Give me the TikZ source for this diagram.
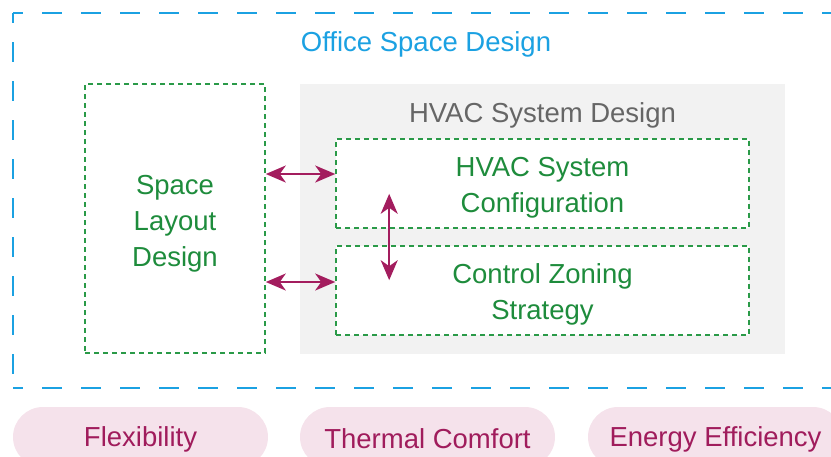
\documentclass[tikz,border=0pt]{standalone}
\usepackage{fontspec}
\setmainfont{Liberation Sans}
\usetikzlibrary{arrows.meta,calc}
\definecolor{outerblue}{HTML}{1BA1E2}
\definecolor{boxgreen}{HTML}{2A9A48}
\definecolor{textgreen}{HTML}{1E8C3C}
\definecolor{graybg}{HTML}{F2F2F2}
\definecolor{graytext}{HTML}{666666}
\definecolor{pillfill}{HTML}{F5E2EB}
\definecolor{pilltext}{HTML}{A01C5C}
\definecolor{arrowc}{HTML}{A31D5E}
\tikzset{
  bigfont/.style={font=\fontsize{27.5}{36}\selectfont},
  outerline/.style={draw=outerblue, line width=2pt, dash pattern=on 20pt off 19pt, dash phase=10pt},
  greenbox/.style={draw=boxgreen, fill=white, line width=1.6pt, dash pattern=on 5pt off 4pt, inner sep=0pt},
  greentext/.style={text=textgreen, bigfont, align=center, inner sep=0pt},
  pill/.style={fill=pillfill, rounded corners=30pt, minimum width=255pt, minimum height=60pt,
     inner sep=0pt},
  pilltxt/.style={text=pilltext, bigfont, inner sep=0pt},
  biarrow/.style={draw=arrowc, line width=2.3pt, {Stealth[length=20pt,width=17pt,inset=6pt]}-{Stealth[length=20pt,width=17pt,inset=6pt]}}
}
\begin{document}
\begin{tikzpicture}[x=1pt,y=-1pt]
\useasboundingbox (0,0) rectangle (831,456);
\clip (0,0) rectangle (831,456);
% outer dashed frame
\draw[outerline] (13,13) -- (860,13);
\draw[outerline] (13,13) -- (13,388);
\draw[outerline] (13,388) -- (860,388);
\node[bigfont, text=outerblue, inner sep=0pt] (title) at (426,44) {Office Space Design};
% gray HVAC box
\node[fill=graybg, minimum width=485pt, minimum height=270pt, inner sep=0pt] (hvac) at (542.5,219) {};
\node[bigfont, text=graytext, inner sep=0pt] (hvactitle) at (542.5,115) {HVAC System Design};
% green boxes
\node[greenbox, minimum width=180pt, minimum height=269pt] (layout) at (175,218.5) {};
\node[greenbox, minimum width=413pt, minimum height=89pt] (cfg) at (542.5,183.5) {};
\node[greenbox, minimum width=413pt, minimum height=89pt] (zon) at (542.5,290.5) {};
\node[greentext] (layoutt) at ([yshift=-5pt]layout.center) {Space\\Layout\\Design};
\node[greentext] (cfgt) at ([yshift=-4pt]cfg.center) {HVAC System\\Configuration};
\node[greentext] (zont) at ([yshift=-4pt]zon.center) {Control Zoning\\Strategy};
% arrows
\draw[biarrow] (layout.east |- 0,174) -- (cfg.west |- 0,174);
\draw[biarrow] (layout.east |- 0,282) -- (zon.west |- 0,282);
\coordinate (vtop) at ($(cfg.south west)+(54,-35)$);
\coordinate (vbot) at ($(zon.north west)+(54,35)$);
\draw[biarrow] (vtop) -- (vbot);
% pills
\node[pill] (flex) at (140.5,437) {};
\node[pill] (thermal) at (427.5,437) {};
\node[pill] (energy) at (715.5,437) {};
\node[pilltxt] (flext) at ([yshift=-2pt]flex.center) {Flexibility};
\node[pilltxt] (thermalt) at ([yshift=-2pt]thermal.center) {Thermal Comfort};
\node[pilltxt] (energyt) at ([yshift=-2pt]energy.center) {Energy Efficiency};
\end{tikzpicture}
\end{document}
